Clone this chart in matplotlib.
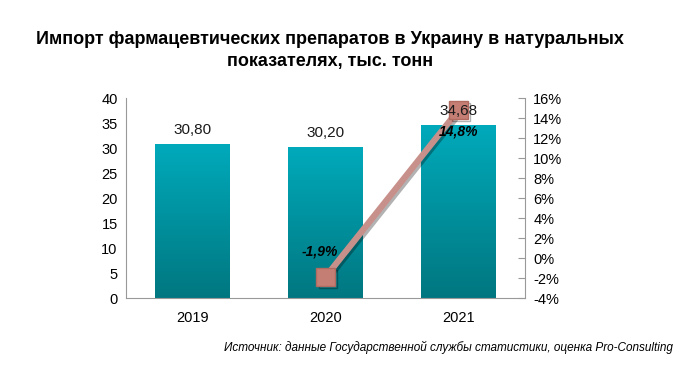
import numpy as np
import matplotlib.pyplot as plt
import matplotlib.patheffects as pe
from matplotlib.colors import LinearSegmentedColormap

plt.rcParams['font.family'] = ['Liberation Sans', 'DejaVu Sans']

# data
years = ['2019', '2020', '2021']
volume = [30.80, 30.20, 34.68]        # тыс. тонн
growth_years = ['2020', '2021']
growth = [-1.9, 14.8]                 # %

title = 'Импорт фармацевтических препаратов в Украину в натуральных\nпоказателях, тыс. тонн'
source = 'Источник: данные Государственной службы статистики, оценка Pro-Consulting'

fig = plt.figure(figsize=(6.87, 3.69), dpi=100)
ax = fig.add_axes([0.1834, 0.1924, 0.5808, 0.542])

x = np.arange(len(years))
bars = ax.bar(x, volume, width=0.56, color='#0096a3', zorder=2)

# vertical gradient inside each bar
cmap = LinearSegmentedColormap.from_list('teal', ['#007780', '#00aabb'])
grad = np.linspace(0, 1, 256).reshape(-1, 1)
for b in bars:
    x0, y0 = b.get_x(), b.get_y()
    w, h = b.get_width(), b.get_height()
    im = ax.imshow(grad, cmap=cmap, origin='lower', aspect='auto',
                   extent=(x0, x0 + w, y0, y0 + h), zorder=2)
    im.set_clip_path(b)

ax.set_xlim(-0.5, 2.5)
ax.set_ylim(0, 40)
ax.set_yticks(np.arange(0, 41, 5))
ax.set_xticks(x)
ax.set_xticklabels(years)
ax.tick_params(axis='y', length=0, labelsize=10.5, pad=6)
ax.tick_params(axis='x', length=0, labelsize=10.5, pad=9)
for s in ['top', 'right']:
    ax.spines[s].set_visible(False)
ax.spines['left'].set_color('#999999')
ax.spines['bottom'].set_color('#999999')

# growth line on right axis
ax2 = ax.twinx()
gx = [years.index(g) for g in growth_years]
ax2.plot(gx, growth, color='#c8908a', lw=4.5, marker='s', markersize=13,
         markerfacecolor='#c47e74', markeredgecolor='#b06a60', zorder=4,
         path_effects=[pe.SimpleLineShadow(offset=(1.5, -1.5), alpha=0.3), pe.Normal()])
ax2.set_ylim(-4, 16)
ax2.set_yticks(np.arange(-4, 17, 2))
ax2.set_yticklabels([f'{t}%' for t in range(-4, 17, 2)])
ax2.tick_params(axis='y', direction='in', length=5, color='#999999', labelsize=10.5, pad=6)
for s in ['top', 'left', 'bottom']:
    ax2.spines[s].set_visible(False)
ax2.spines['right'].set_color('#999999')

# bar value labels drawn above the line
for xi, v in zip(x, volume):
    ax2.text(xi, v + 2.8, f'{v:.2f}'.replace('.', ','), transform=ax.transData,
             ha='center', va='center', fontsize=11, color='#1a1a1a', zorder=6)

ax2.text(gx[0] - 0.04, growth[0] + 2.6, f'{growth[0]:.1f}%'.replace('.', ','),
         ha='center', va='center', fontsize=10, fontweight='bold', style='italic', zorder=6)
ax2.text(gx[1], growth[1] - 2.1, f'{growth[1]:.1f}%'.replace('.', ','),
         ha='center', va='center', fontsize=10, fontweight='bold', style='italic', zorder=6)

fig.text(0.48, 0.915, title, ha='center', va='top', fontsize=13, fontweight='bold',
         linespacing=1.35)
fig.text(0.98, 0.04, source, ha='right', va='bottom', fontsize=8.5, style='italic')

fig.savefig('out.png', dpi=100)
